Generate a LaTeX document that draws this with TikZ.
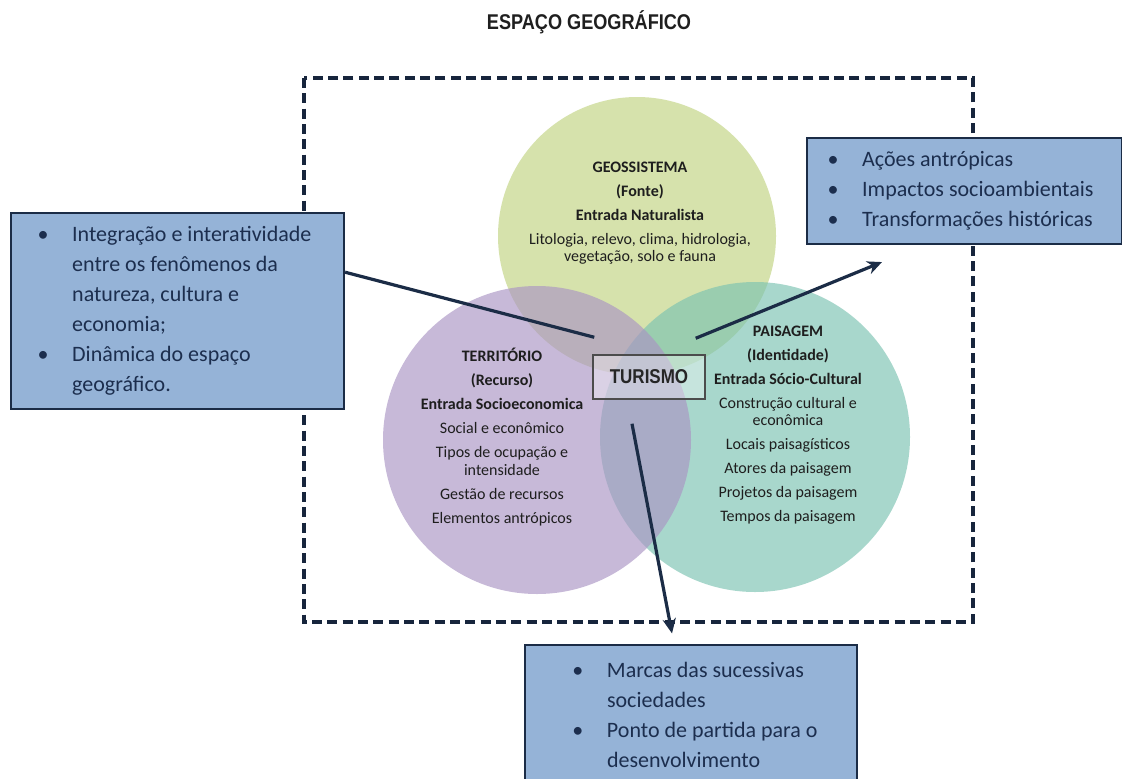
\documentclass[tikz,border=0pt]{standalone}
\usepackage{fontspec}
\setmainfont{Carlito}
\newfontfamily\headfont[FakeStretch=0.85]{Liberation Sans}
\usepackage{tikz}
\usetikzlibrary{positioning,arrows.meta}
\definecolor{geocol}{RGB}{193,211,128}
\definecolor{tercol}{RGB}{170,148,196}
\definecolor{paicol}{RGB}{122,194,177}
\definecolor{boxcol}{RGB}{149,179,215}
\definecolor{navy}{RGB}{27,44,70}
\definecolor{boxtext}{RGB}{28,46,78}
\definecolor{circtext}{RGB}{30,30,30}
\newcommand{\bul}{\makebox[26pt][l]{\textbullet}}
\newcommand{\ind}{\hspace*{26pt}}
\newcommand{\lpad}{\hspace*{23.6pt}}

\begin{document}
\begin{tikzpicture}[x=0.75pt,y=-0.75pt,
    disc/.style={circle,minimum size=#1,inner sep=0pt,fill opacity=0.65},
    circ text/.style={align=center,text=circtext,font=\fontsize{12}{13}\selectfont},
    info box/.style={draw=navy,line width=1.3pt,fill=boxcol,text=boxtext,align=flush left,
      anchor=north west,font=\fontsize{16.5}{22.5}\selectfont},
    link/.style={draw=navy,line width=2.4pt,>={Stealth[length=11pt,width=10pt]}},
    frame/.style={draw=navy!85!black,line width=2.3pt,dash pattern=on 7.5pt off 4pt}]
  \useasboundingbox[fill=white] (0,0) rectangle (1124,778);
  \node[font=\headfont\bfseries\fontsize{16}{16}\selectfont,text=black!88] (title) at (589,22) {ESPAÇO GEOGRÁFICO};
  \draw[frame] (304,78) rectangle (973,622);

  \node[disc=208.5pt,fill=geocol] (geo) at (637,236) {};
  \node[disc=232.5pt,fill=paicol] (pai) at (755,437) {};
  \node[disc=231pt,fill=tercol] (ter) at (537,440) {};

  \node[circ text] (geo text) at (640,213) {\textbf{GEOSSISTEMA}\\[5pt]\textbf{(Fonte)}\\[5pt]\textbf{Entrada Naturalista}\\[5pt]Litologia, relevo, clima, hidrologia,\\vegetação, solo e fauna};
  \node[circ text] (ter text) at (502,437) {\textbf{TERRITÓRIO}\\[5pt]\textbf{(Recurso)}\\[5pt]\textbf{Entrada Socioeconomica}\\[5pt]Social e econômico\\[5pt]Tipos de ocupação e\\intensidade\\[5pt]Gestão de recursos\\[5pt]Elementos antrópicos};
  \node[circ text] (pai text) at (788,425) {\textbf{PAISAGEM}\\[5pt]\textbf{(Identidade)}\\[5pt]\textbf{Entrada Sócio-Cultural}\\[5pt]Construção cultural e\\econômica\\[5pt]Locais paisagísticos\\[5pt]Atores da paisagem\\[5pt]Projetos da paisagem\\[5pt]Tempos da paisagem};

  \node[draw=black!70,line width=1.1pt,fill=white,fill opacity=0.35,text opacity=1,minimum width=84pt,minimum height=33pt,
    font=\headfont\bfseries\fontsize{15}{15}\selectfont,text=black!85] (tur) at (649,377) {TURISMO};

  \node[info box,text width=210pt,inner xsep=20pt,minimum height=147pt] (lbox) at (10,212)
    {\bul Integração e interatividade\\ \ind entre os fenômenos da\\ \ind natureza, cultura e\\ \ind economia;\\ \bul Dinâmica do espaço\\ \ind geográfico.};
  \node[info box,text width=205pt,inner xsep=15.5pt,minimum height=79.5pt] (rbox) at (806,137)
    {\bul Ações antrópicas\\ \bul Impactos socioambientais\\ \bul Transformações históricas};
  \node[info box,text width=225pt,inner xsep=12pt,minimum height=105pt] (bbox) at (524,644)
    {\lpad\bul Marcas das sucessivas\\ \lpad\ind sociedades\\ \lpad\bul Ponto de partida para o\\ \lpad\ind desenvolvimento};

  \coordinate (w end) at ([xshift=1.5pt,yshift=12.75pt]tur.north west);
  \coordinate (ne start) at ([xshift=-7.5pt,yshift=12pt]tur.north east);
  \coordinate (s start) at ([xshift=-12.75pt,yshift=-18pt]tur.south);
  \coordinate (ne tip) at ([xshift=57pt,yshift=-13pt]rbox.south west);
  \coordinate (s tip) at ([xshift=111pt,yshift=8pt]bbox.north west);

  \draw[link] ([yshift=29pt]lbox.east) -- (w end);
  \draw[link,->] (ne start) -- (ne tip);
  \draw[link,->] (s start) -- (s tip);
\end{tikzpicture}
\end{document}
